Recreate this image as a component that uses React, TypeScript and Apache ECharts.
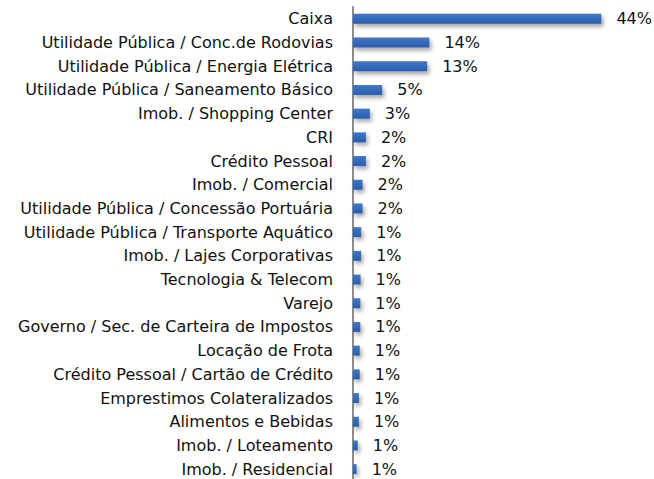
import React, { useEffect, useRef } from "react";
import * as echarts from "echarts";

const categories = [
  "Caixa",
  "Utilidade Pública / Conc.de Rodovias",
  "Utilidade Pública / Energia Elétrica",
  "Utilidade Pública / Saneamento Básico",
  "Imob. / Shopping Center",
  "CRI",
  "Crédito Pessoal",
  "Imob. / Comercial",
  "Utilidade Pública / Concessão Portuária",
  "Utilidade Pública / Transporte Aquático",
  "Imob. / Lajes Corporativas",
  "Tecnologia & Telecom",
  "Varejo",
  "Governo / Sec. de Carteira de Impostos",
  "Locação de Frota",
  "Crédito Pessoal / Cartão de Crédito",
  "Emprestimos Colateralizados",
  "Alimentos e Bebidas",
  "Imob. / Loteamento",
  "Imob. / Residencial",
];

const values = [
  44.2, 13.6, 13.2, 5.2, 3.0, 2.3, 2.3, 1.7, 1.7, 1.45, 1.45, 1.35, 1.3, 1.3,
  1.2, 1.2, 1.05, 1.05, 0.85, 0.65,
];

const FONT = "'DejaVu Sans', Verdana, sans-serif";

export default function App() {
  const ref = useRef<HTMLDivElement>(null);
  useEffect(() => {
    if (!ref.current) return;
    const chart = echarts.init(ref.current, null, { renderer: "svg" });
    chart.setOption({
      animation: false,
      grid: {
        left: 353,
        top: 7,
        width: 281,
        height: 474,
        containLabel: false,
        outerBoundsMode: "none",
      },
      xAxis: {
        type: "value",
        min: 0,
        max: 50,
        show: false,
      },
      yAxis: {
        type: "category",
        data: categories,
        inverse: true,
        axisLine: { show: true, lineStyle: { color: "#8c8c8c", width: 2 } },
        axisTick: { show: false },
        axisLabel: {
          margin: 20,
          fontSize: 16,
          fontFamily: FONT,
          color: "#111111",
        },
      },
      series: [
        {
          type: "bar",
          data: values,
          barWidth: 10,
          itemStyle: {
            color: new echarts.graphic.LinearGradient(0, 0, 0, 1, [
              { offset: 0, color: "#3d78cc" },
              { offset: 1, color: "#2b5ca8" },
            ]),
            shadowColor: "rgba(0,0,0,0.35)",
            shadowBlur: 4,
            shadowOffsetX: 2,
            shadowOffsetY: 3,
          },
          label: {
            show: true,
            position: "right",
            distance: 15,
            fontSize: 16,
            fontFamily: FONT,
            color: "#111111",
            formatter: (p: any) => Math.round(p.value) + "%",
          },
        },
      ],
    });
    return () => chart.dispose();
  }, []);
  return <div ref={ref} style={{ width: 654, height: 479, position: "absolute", left: 0, top: 0 }} />;
}
